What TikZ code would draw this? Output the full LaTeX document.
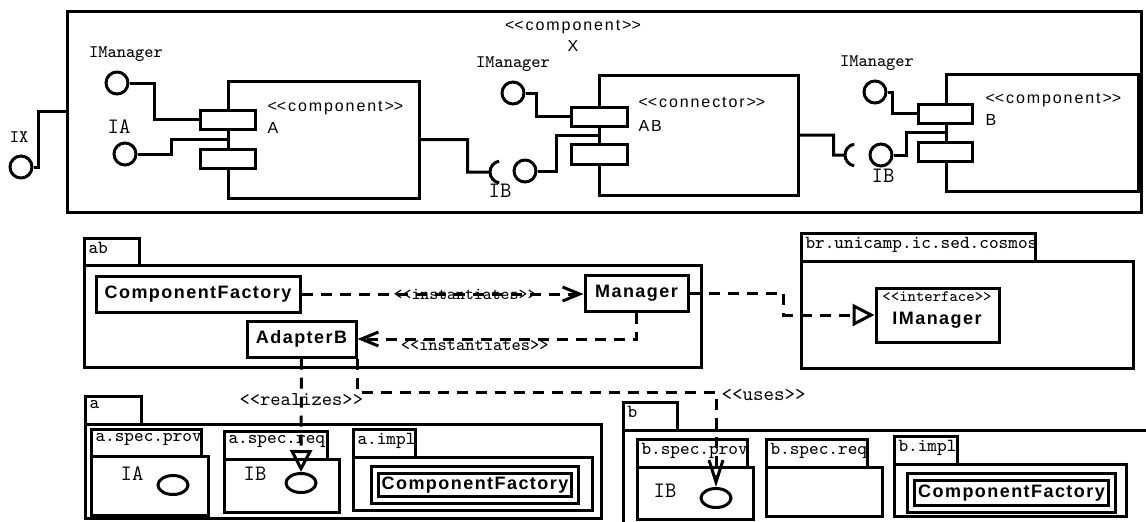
\documentclass[tikz,border=0pt]{standalone}
\usepackage{fontspec}
\setmainfont{Liberation Sans}
\newfontfamily\umlsans[LetterSpace=12]{Liberation Sans}
\newfontfamily\umlbold[LetterSpace=8]{Liberation Sans}
\usetikzlibrary{positioning, arrows.meta, fit, shapes.geometric}
\newcommand{\stereo}[1]{<\kern0pt<#1>\kern0pt>}

\begin{document}
\begin{tikzpicture}[x=0.5pt, y=-0.5pt, line width=1.5pt,
  umlbox/.style={draw, fill=white, inner sep=0pt},
  dblbox/.style={draw, double=white, double distance=2.2pt, inner sep=0pt},
  lolli/.style={circle, draw, fill=white, minimum size=11pt, inner sep=0pt},
  iface/.style={ellipse, draw, fill=white, minimum width=15pt, minimum height=9.5pt, inner sep=0pt},
  sname/.style={font=\umlsans\fontsize{8}{9}\selectfont, inner sep=0pt},
  bname/.style={font=\umlbold\bfseries\fontsize{9}{11}\selectfont, inner sep=0pt},
  iname/.style={font=\ttfamily\fontsize{8.8}{10}\selectfont, inner sep=0pt},
  ibig/.style={font=\ttfamily\fontsize{11}{12}\selectfont, inner sep=0pt},
  stname/.style={font=\ttfamily\fontsize{#1}{10}\selectfont, inner sep=0pt},
  pkgname/.style={font=\ttfamily\fontsize{9.2}{10}\selectfont, inner sep=1.5pt, anchor=north west},
  dep/.style={dash pattern=on 5.5pt off 4pt},
  openarr/.style={-{Straight Barb[length=8.5pt, width=7pt]}},
  usesarr/.style={-{Straight Barb[length=11pt, width=7pt]}},
  hollow/.style={-{Triangle[open, length=11pt, width=11pt]}}]
  \clip (0,0) rectangle (1146,521);
  % component X and its parts
  \node[umlbox, fit={(67,11) (1141,212)}] (compX) {};
  \node[sname, anchor=base] (stX) at (573,30) {\stereo{component}};
  \node[sname, anchor=base] (nmX) at (573,51) {X};
  \node[umlbox, fit={(228,81) (419,198)}] (compA) {};
  \node[umlbox, fit={(599,75) (798,195)}] (compAB) {};
  \node[umlbox, fit={(946,74) (1138,191)}] (compB) {};
  \foreach \n/\xa/\ya/\xb/\yb in {A1/200/110/255/129, A2/200/149/255/168,
      AB1/571/107/627/126, AB2/571/144/627/164, B1/918/104/972/123, B2/918/142/972/161}{
    \node[umlbox, fit={(\xa,\ya) (\xb,\yb)}] (port\n) {};
  }
  \node[sname, anchor=base west] (stA) at (266,111) {\stereo{component}};
  \node[sname, anchor=base west] (nmA) at (266,133) {A};
  \node[sname, anchor=base west] (stAB) at (637,107) {\stereo{connector}};
  \node[sname, anchor=base west] (nmAB) at (637,131) {AB};
  \node[sname, anchor=base west] (stB) at (984,103) {\stereo{component}};
  \node[sname, anchor=base west] (nmB) at (984,125) {B};
  % provided interfaces
  \node[lolli] (lolIX) at (21,167) {};
  \node[lolli] (lolMgrA) at (117,83) {};
  \node[lolli] (lolIA) at (125,154) {};
  \node[lolli] (lolMgrAB) at (513,93) {};
  \node[lolli] (lolIBAB) at (525,171) {};
  \node[lolli] (lolMgrB) at (875,92) {};
  \node[lolli] (lolIBB) at (881,155) {};
  \node[iname] (txIX) at (19,137) {IX};
  \node[iname] (txMgrA) at (126,54) {IManager};
  \node[ibig] (txIA) at (119,127) {IA};
  \node[iname] (txMgrAB) at (513,64) {IManager};
  \node[ibig] (txIBAB) at (500,191) {IB};
  \node[iname] (txMgrB) at (877,63) {IManager};
  \node[ibig] (txIBB) at (883,176) {IB};
  \coordinate (sockAB) at (490,172);
  \coordinate (sockB) at (845,155);
  % wires
  \draw (lolIX.east) -- ++(5,0) |- (compX.west);
  \draw (lolMgrA.east) -- ++(25,0) |- (portA1.west);
  \draw (lolIA.east) -- ++(34,0) |- (compA.west);
  \draw (compA.east) -- ++(47,0) |- (sockAB) arc[start angle=180, end angle=100, radius=11]
        (sockAB) arc[start angle=180, end angle=260, radius=11];
  \draw (lolMgrAB.east) -- ++(11,0) |- (portAB1.west);
  \draw (lolIBAB.east) -- ++(19,0) |- (compAB.west);
  \draw (compAB.east) -- ++(34,0) |- (sockB) arc[start angle=180, end angle=100, radius=11]
        (sockB) arc[start angle=180, end angle=260, radius=11];
  \draw (lolMgrB.east) -- ++(5,0) |- (portB1.west);
  \draw (lolIBB.east) -- ++(13,0) |- (compB.west);
  % packages
  \foreach \xa/\ya/\xt/\yb/\xb/\yc/\lab [count=\i] in {
      84/238/139/265/701/367/ab,
      801/233/1035/261/1133/368/br.unicamp.ic.sed.cosmos,
      85/396/141/424/601/518/a,
      91/429/201/456/208/515/a.spec.prov,
      224/431/327/459/339/512/a.spec.req,
      353/429/415/457/592/510/a.impl,
      623/402/677/430/1160/540/b,
      637/439/747/467/753/519/b.spec.prov,
      766/439/867/467/882/516/b.spec.req,
      894/436/957/464/1126/516/b.impl}{
    \draw (\xa,\ya) rectangle (\xt,\yb);
    \draw (\xa,\yb) rectangle (\xb,\yc);
    \node[pkgname] (pkg\i) at (\xa,\ya) {\lab};
  }
  % classes and interfaces
  \node[umlbox, fit={(96,276) (300,312)}] (cfAB) {};
  \node[umlbox, fit={(585,275) (688,311)}] (mgr) {};
  \node[umlbox, fit={(247,321) (356,357)}] (adB) {};
  \node[umlbox, fit={(876,288) (999,342)}] (imgr) {};
  \node[dblbox, fit={(375,470) (575,500)}] (cfA) {};
  \node[dblbox, fit={(911,477) (1112,509)}] (cfB) {};
  \node[bname] (txCfAB) at (cfAB.center) {ComponentFactory};
  \node[bname] (txMgr) at (mgr.center) {Manager};
  \node[bname] (txAdB) at (adB.center) {AdapterB};
  \node[stname=7.9] (stImgr) at (937,297) {\stereo{interface}};
  \node[bname] (nmImgr) at (937,320) {IManager};
  \node[bname] (txCfA) at (cfA.center) {ComponentFactory};
  \node[bname] (txCfB) at (cfB.center) {ComponentFactory};
  \node[iface] (ellIA) at (173,485) {};
  \node[iface] (ellIBa) at (301,483) {};
  \node[iface] (ellIBb) at (716,498) {};
  \node[ibig] (txIA2) at (132,474) {IA};
  \node[ibig] (txIBa) at (255,474) {IB};
  \node[ibig] (txIBb) at (665,491) {IB};
  % dependencies
  \draw[dep, openarr] (cfAB.east) -- (cfAB.east -| mgr.west)
       node[stname=8.4, pos=0.58] (lbInst1) {\stereo{instantiates}};
  \draw[dep, openarr] (mgr.south) |- (adB.east)
       node[stname=8.8, pos=0.79, yshift=-3pt] (lbInst2) {\stereo{instantiates}};
  \draw[dep, hollow] (mgr.east) -- ++(94,0) |- (imgr.west);
  \draw[dep, hollow] (adB.south) -- (ellIBa.north)
       node[stname=9.8, pos=0.36] (lbReal) {\stereo{realizes}};
  \draw[dep, usesarr] (adB.south east) -- ++(0,34) -| (ellIBb.north)
       node[stname=10, pos=0.5, anchor=west, xshift=2pt, yshift=-1pt] (lbUses) {\stereo{uses}};
\end{tikzpicture}
\end{document}
